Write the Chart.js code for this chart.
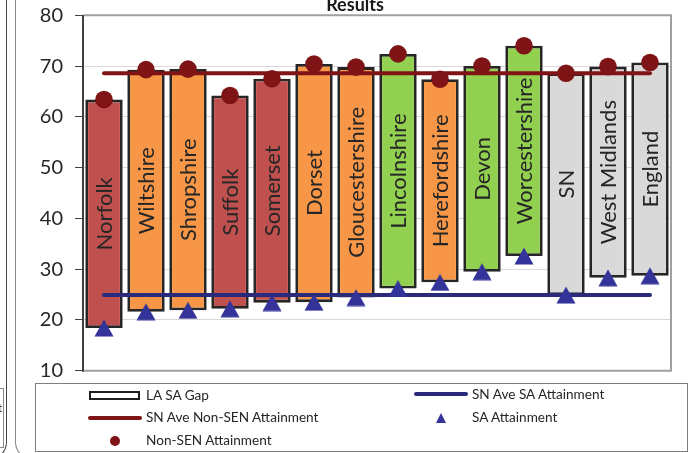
<!DOCTYPE html>
<html><head><meta charset="utf-8">
<script src="https://cdn.jsdelivr.net/npm/chart.js@4"></script>
<style>
html,body{margin:0;padding:0;background:#fff;}
#wrap{position:relative;width:690px;height:453px;overflow:hidden;background:#fff;font-family:Lato,sans-serif;}
#c{position:absolute;left:0;top:0;}
.box{position:absolute;box-sizing:border-box;}
.txt{position:absolute;font-size:13.6px;color:#262626;line-height:16px;height:16px;white-space:nowrap;}
</style></head>
<body>
<div id="wrap">
  <canvas id="c" width="690" height="453"></canvas>
  <div class="box" style="left:-20px;top:-10px;width:27px;height:470px;border-right:1px solid #444;border-bottom:1px solid #444;border-bottom-right-radius:18px;"></div>
  <div class="box" style="left:15px;top:-10px;width:40px;height:470px;border-left:1px solid #888;border-bottom:1px solid #888;border-bottom-left-radius:18px;"></div>
  <div class="box" style="left:-30px;top:388px;width:34px;height:60px;border:1px solid #888;background:#fff;"></div>
  <div class="txt" style="left:-2px;top:400px;font-size:12px;">t</div>

  <div class="box" style="left:35px;top:383px;width:653px;height:69px;border:1px solid #7f7f7f;"></div>
  <div class="box" style="left:89px;top:391px;width:51px;height:9px;border:2.5px solid #1e1e1e;background:#fff;"></div>
  <div class="txt" style="left:146px;top:387px;">LA SA Gap</div>
  <div class="box" style="left:88px;top:415.5px;width:54px;height:4px;border-radius:2px;background:#7F1416;"></div>
  <div class="txt" style="left:146px;top:409px;">SN Ave Non-SEN Attainment</div>
  <div class="box" style="left:110px;top:435.5px;width:10px;height:10px;border-radius:50%;background:#7F1416;"></div>
  <div class="txt" style="left:146px;top:432px;">Non-SEN Attainment</div>
  <div class="box" style="left:414px;top:392.3px;width:54px;height:4px;border-radius:2px;background:#2A2A7C;"></div>
  <div class="txt" style="left:472px;top:386px;">SN Ave SA Attainment</div>
  <div class="box" style="left:436px;top:412.5px;width:0;height:0;border-left:5.5px solid transparent;border-right:5.5px solid transparent;border-bottom:10px solid #333399;"></div>
  <div class="txt" style="left:472px;top:409px;">SA Attainment</div>
</div>
<script>
const categories = ['Norfolk','Wiltshire','Shropshire','Suffolk','Somerset','Dorset','Gloucestershire','Lincolnshire','Herefordshire','Devon','Worcestershire','SN','West Midlands','England'];
const saAttainment = [18.4,21.6,21.9,22.2,23.4,23.5,24.4,26.2,27.4,29.5,32.6,24.9,28.3,28.7];
const nonSenAttainment = [63.4,69.3,69.4,64.2,67.5,70.4,69.8,72.4,67.4,70.0,74.0,68.6,69.9,70.7];
const snAveSaAttainment = [24.9,24.9,24.9,24.9,24.9,24.9,24.9,24.9,24.9,24.9,24.9,24.9,24.9,24.9];
const snAveNonSenAttainment = [68.6,68.6,68.6,68.6,68.6,68.6,68.6,68.6,68.6,68.6,68.6,68.6,68.6,68.6];
const yTicks = [10,20,30,40,50,60,70,80];

const barColors = ['#C0504D','#F79646','#F79646','#C0504D','#C0504D','#F79646','#F79646','#92D050','#F79646','#92D050','#92D050','#D9D9D9','#D9D9D9','#D9D9D9'];

const gapBars = saAttainment.map((v,i)=>[v, nonSenAttainment[i]]);

// triangle marker image (centered by bounding box)
const tri = document.createElement('canvas');
tri.width = 20; tri.height = 18;
(function(){const t=tri.getContext('2d');t.fillStyle='#333399';t.beginPath();t.moveTo(10,0.5);t.lineTo(19.5,17.5);t.lineTo(0.5,17.5);t.closePath();t.fill();})();

const FONT = "Lato, sans-serif";

const framePlugin = {
  id:'frame',
  beforeDatasetsDraw(chart){
    const {ctx, chartArea:a} = chart;
    ctx.save();
    ctx.strokeStyle = '#A0A0A0'; ctx.lineWidth = 2;
    ctx.beginPath();
    ctx.moveTo(a.left, a.top); ctx.lineTo(a.right, a.top); ctx.lineTo(a.right, a.bottom); ctx.lineTo(a.left, a.bottom);
    ctx.stroke();
    ctx.strokeStyle = '#404040'; ctx.lineWidth = 2;
    ctx.beginPath(); ctx.moveTo(a.left, a.top); ctx.lineTo(a.left, a.bottom+1); ctx.stroke();
    ctx.restore();
  },
  afterDraw(chart){
    const ctx = chart.ctx;
    ctx.save();
    ctx.font = "bold 18px " + FONT;
    ctx.fillStyle = '#1a1a1a';
    ctx.textAlign = 'center';
    ctx.textBaseline = 'alphabetic';
    ctx.fillText('Results', 355, 11);
    ctx.restore();
  }
};

const labelPlugin = {
  id:'barLabels',
  afterDatasetsDraw(chart){
    const ctx = chart.ctx;
    const meta = chart.getDatasetMeta(0);
    ctx.save();
    ctx.font = "22px " + FONT;
    ctx.fillStyle = '#262626';
    ctx.textAlign = 'center';
    ctx.textBaseline = 'middle';
    meta.data.forEach((bar,i)=>{
      const mid = (bar.y + bar.base)/2;
      ctx.save();
      ctx.translate(bar.x+1, mid);
      ctx.rotate(-Math.PI/2);
      ctx.fillText(categories[i], 0, 0);
      ctx.restore();
    });
    ctx.restore();
  }
};

new Chart(document.getElementById('c'), {
  data:{
    labels: categories,
    datasets:[
      {type:'bar', label:'LA SA Gap', data:gapBars, backgroundColor:barColors, borderColor:'#262626', borderWidth:2.8, borderSkipped:false, categoryPercentage:1, barPercentage:0.89, order:3},
      {type:'line', label:'SN Ave SA Attainment', data:snAveSaAttainment, borderColor:'#2A2A7C', borderWidth:4, pointRadius:0, borderCapStyle:'round', order:2},
      {type:'line', label:'SN Ave Non-SEN Attainment', data:snAveNonSenAttainment, borderColor:'#7F1416', borderWidth:4, pointRadius:0, borderCapStyle:'round', order:2},
      {type:'line', label:'SA Attainment', data:saAttainment, showLine:false, pointStyle:tri, pointRadius:10, order:1},
      {type:'line', label:'Non-SEN Attainment', data:nonSenAttainment, showLine:false, pointStyle:'circle', pointRadius:8.8, pointBorderWidth:0, pointBackgroundColor:'#7F1416', order:0}
    ]
  },
  options:{
    responsive:false, animation:false,
    layout:{padding:{left:0, right:19, top:15.3, bottom:82.3}},
    plugins:{legend:{display:false}, tooltip:{enabled:false}, title:{display:false}},
    scales:{
      x:{display:false, offset:true},
      y:{
        min:10, max:80,
        afterFit(s){ s.width = 83; s.paddingTop = 0; s.paddingBottom = 0; },
        afterBuildTicks(s){ s.ticks = yTicks.map(v=>({value:v})); },
        ticks:{font:{family:FONT, size:20}, color:'#262626', padding:12},
        grid:{color:'#D9D9D9', lineWidth:1, tickColor:'#404040', tickLength:8, drawTicks:true},
        border:{display:false}
      }
    }
  },
  plugins:[framePlugin, labelPlugin]
});
</script>
</body></html>
